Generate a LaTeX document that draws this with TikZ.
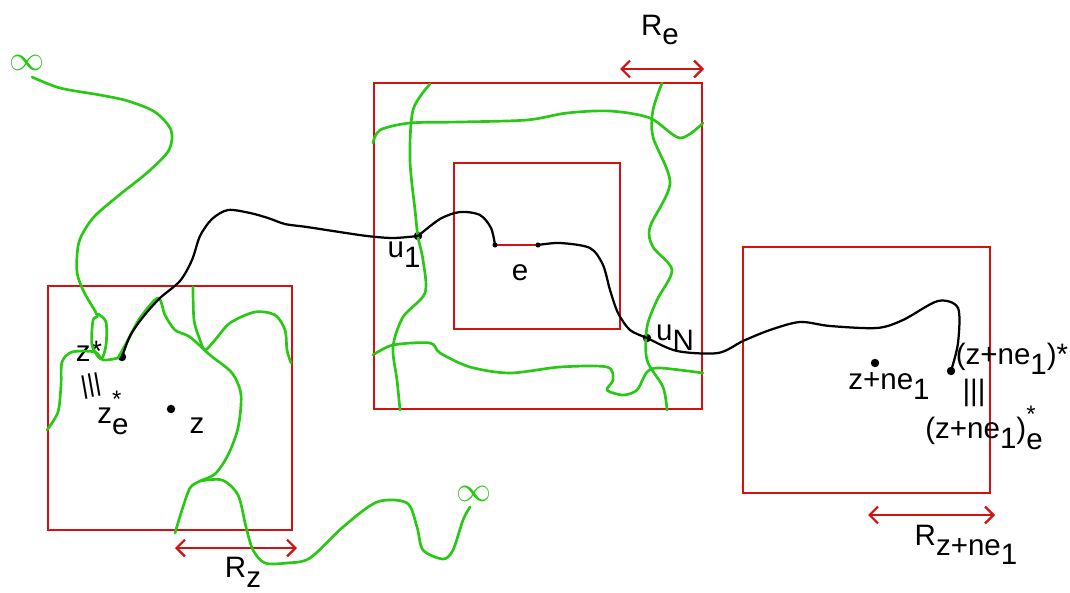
\documentclass[tikz,border=0pt]{standalone}
\usepackage{fontspec}
\setmainfont{Liberation Sans}
\usetikzlibrary{arrows.meta}

\definecolor{penred}{RGB}{212,16,16}
\definecolor{pengreen}{RGB}{40,200,20}
\newcommand\lsub[1]{\raisebox{-0.33em}{#1}}
\newcommand\lstack[2]{\raisebox{-0.36em}{\rlap{\raisebox{0.9em}{\fontsize{17}{17}\selectfont #2}}#1}}

\begin{document}
\begin{tikzpicture}[
		x=0.025cm, y=-0.025cm,
		boxline/.style = {draw=penred, line width=1.6pt},
		radarrow/.style = {draw=penred, line width=1.6pt, {Straight Barb[length=6pt,width=12pt]}-{Straight Barb[length=6pt,width=12pt]}},
		walk/.style = {draw=pengreen, line width=1.9pt, line cap=round, line join=round},
		route/.style = {draw=black, line width=1.6pt, line cap=round, line join=round},
		lbl/.style = {font=\fontsize{21}{24}\selectfont, inner sep=0pt},
		dot/.style = {circle, fill=black, inner sep=0pt, minimum size=6pt},
		inf/.style = {text=pengreen, font=\fontsize{30}{30}\selectfont, inner sep=0pt}
		]
		\useasboundingbox (0,0) rectangle (1070,592);
		
		% --- CAJAS ---
		\draw [boxline] (48,286) rectangle (292,530);
		\draw [boxline] (374,83) rectangle (702,409);
		\draw [boxline] (454,163) rectangle (620,329);
		\draw [boxline] (743,247) rectangle (990,493);
		
		% --- PUNTOS ---
		\node [dot] (zstar) at (122,357) {};
		\node [dot] (zc)    at (171,409) {};
		\node [dot] (u1)    at (418,236) {};
		\node [dot] (uN)    at (647,338) {};
		\node [dot] (zn)    at (875,363) {};
		\node [dot] (znstar) at (951,371) {};
		\coordinate (e1) at (495,245);
		\coordinate (e2) at (538,245);
		
		% --- ETIQUETAS ---
		\node [lbl] (lzstar) at (89,351)  {z*};
		\node [lbl, rotate=10, font=\fontsize{18}{20}\selectfont] (leqA) at (91,386) {|||};
		\node [lbl] (lzestar) at (113,413) {z\lstack{e}{*}};
		\node [lbl] (lz)     at (197,426) {z};
		\node [lbl] (lu1)    at (404,255) {u\lsub{1}};
		\node [lbl] (le)     at (520,273) {e};
		\node [lbl] (luN)    at (675,338) {u\lsub{N}};
		\node [lbl] (lzn)    at (889,386) {z+ne\lsub{1}};
		\node [lbl] (lznstar) at (1012,359) {(z+ne\lsub{1})*};
		\node [lbl] (leqC)   at (974,393) {|||};
		\node [lbl] (lznestar) at (984,428) {(z+ne\lsub{1})\lstack{e}{*}};
		\node [inf] (infA) at (27,63) {$\infty$};
		\node [inf] (infB) at (474,494) {$\infty$};
		
		% --- RADIOS ---
		\coordinate (ReL) at (620,69);  \coordinate (ReR) at (704,69);
		\coordinate (RzL) at (175,548); \coordinate (RzR) at (297,548);
		\coordinate (RnL) at (868,515); \coordinate (RnR) at (995,515);
		\draw [radarrow] (ReL) -- (ReR);
		\draw [radarrow] (RzL) -- (RzR);
		\draw [radarrow] (RnL) -- (RnR);
		\node [lbl] (lRe) at (660,30)  {R\lsub{e}};
		\node [lbl] (lRz) at (243,572) {R\lsub{z}};
		\node [lbl] (lRn) at (966,545) {R\lsub{z+ne\lsub{1}}};
		
		% --- CAMINOS VERDES ---
		% desde el infinito de arriba
		\draw [walk] plot [smooth] coordinates {(32,77) (60,88) (100,95) (128,101) (155,112) (171,130) (169,150) (148,172) (118,196) (93,218) (79,242) (77,272) (84,292) (97,315) (93,320) (92,345) (101,359) (106,345) (106,322) (98,314)};
		\draw [walk] plot [smooth] coordinates {(47,430) (58,412) (61,385) (62,362) (72,352) (95,352) (103,360) (118,358)};
		\draw [walk] plot [smooth] coordinates {(118,358) (128,340) (140,318) (158,298) (165,315) (175,330) (190,337) (210,355) (232,373) (241,395) (238,428) (228,455) (215,474) (200,481) (190,488) (182,510) (175,533)};
		\draw [walk] plot [smooth] coordinates {(200,481) (222,480) (238,495) (246,527) (253,550) (265,563) (287,563) (310,558) (343,527) (377,502) (407,503) (417,527) (423,550) (443,559) (453,550) (463,520) (470,507)};
		\draw [walk] plot [smooth] coordinates {(193,287) (194,320) (200,340) (205,350) (215,340) (230,323) (255,312) (275,315) (285,330) (287,350) (291,363)};
		% caja central
		\draw [walk] plot [smooth] coordinates {(373,143) (380,130) (410,123) (460,122) (527,120) (567,113) (610,111) (650,118) (680,138) (703,123)};
		\draw [walk] plot [smooth] coordinates {(430,84) (413,110) (410,160) (415,210) (418,237) (423,260) (425,293) (403,317) (393,347) (397,380) (400,410)};
		\draw [walk] plot [smooth] coordinates {(662,83) (653,110) (653,137) (670,183) (650,227) (653,247) (672,270) (657,300) (647,327) (647,360) (663,387) (667,410)};
		\draw [walk] plot [smooth] coordinates {(373,355) (393,345) (430,343) (440,353) (470,367) (510,373) (560,367) (607,367) (613,380) (607,390) (623,395) (637,390) (647,372) (660,368) (703,373)};
		
		% --- CAMINO NEGRO ---
		\draw [route] plot [smooth] coordinates {(zstar.center) (130,336) (143,317) (160,298) (180,281) (192,260) (200,236) (212,219) (228,210) (250,213) (268,218) (285,224) (307,227) (333,231) (367,236) (393,238) (u1.center)};
		\draw [route] plot [smooth] coordinates {(u1.center) (440,219) (460,212) (480,215) (491,228) (e1)};
		\draw [boxline] (e1) -- (e2);
		\fill (e1) circle [radius=1.8pt] (e2) circle [radius=1.8pt];
		\draw [route] plot [smooth] coordinates {(e2) (560,243) (590,248) (603,265) (610,290) (618,313) (630,330) (uN.center) (677,351) (718,353) (743,341) (770,330) (800,322) (830,326) (877,328) (903,320) (938,301) (958,308) (958,343) (znstar.center)};
		
	\end{tikzpicture}
\end{document}
